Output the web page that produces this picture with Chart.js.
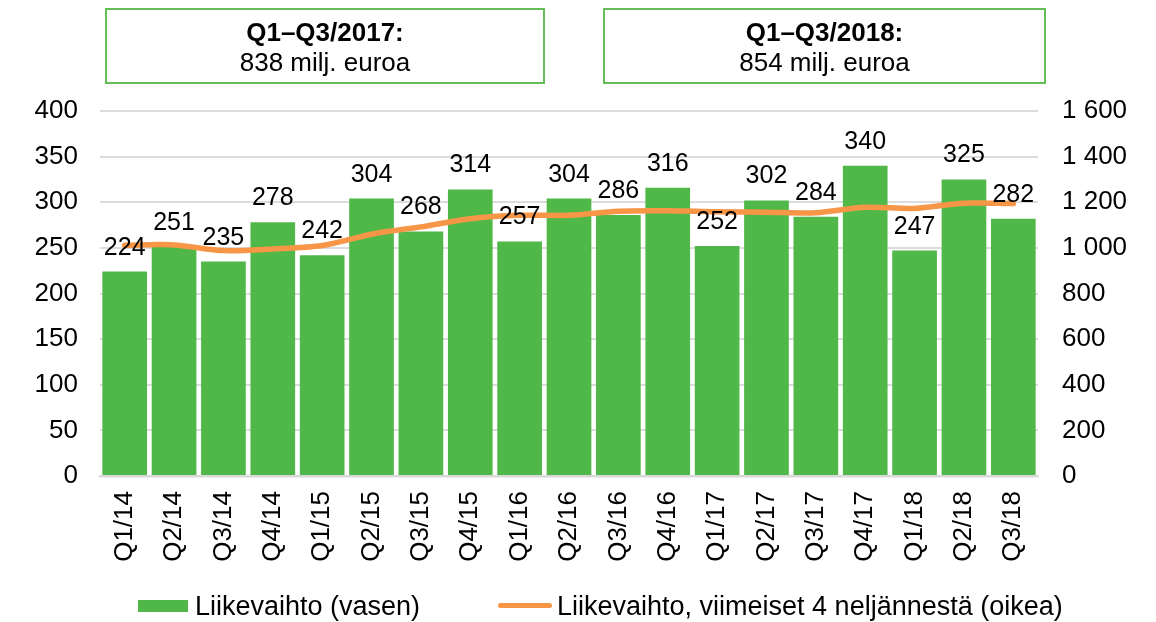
<!DOCTYPE html>
<html><head><meta charset="utf-8">
<script src="https://cdn.jsdelivr.net/npm/chart.js@4.4.0/dist/chart.umd.min.js"></script>
<style>
html,body{margin:0;padding:0;background:#fff;}
#wrap{position:relative;width:1156px;height:622px;font-family:"Liberation Sans",Arial,sans-serif;color:#000;overflow:hidden;}
#c{position:absolute;left:0;top:0;}
.box{position:absolute;top:8px;height:76px;box-sizing:border-box;border:2px solid #64bf57;text-align:center;font-size:26px;line-height:30px;padding-top:7px;}
.box b{display:block;}
.leg{position:absolute;font-size:27px;line-height:30px;white-space:nowrap;}
.sw{position:absolute;}
</style>
</head><body>
<div id="wrap">
<canvas id="c" width="1156" height="622"></canvas>
<div class="box" style="left:105px;width:440px;"><b>Q1–Q3/2017:</b>838 milj. euroa</div>
<div class="box" style="left:603px;width:443px;"><b>Q1–Q3/2018:</b>854 milj. euroa</div>
<div class="sw" style="left:138px;top:600px;width:50px;height:12px;background:#50b848;"></div>
<div class="leg" style="left:195px;top:591px;">Liikevaihto (vasen)</div>
<div class="sw" style="left:498px;top:603px;width:54px;height:5px;border-radius:3px;background:#f79646;"></div>
<div class="leg" style="left:557px;top:591px;">Liikevaihto, viimeiset 4 neljännestä (oikea)</div>
</div>
<script>
const categories = ["Q1/14","Q2/14","Q3/14","Q4/14","Q1/15","Q2/15","Q3/15","Q4/15","Q1/16","Q2/16","Q3/16","Q4/16","Q1/17","Q2/17","Q3/17","Q4/17","Q1/18","Q2/18","Q3/18"];
const revenue = [224,251,235,278,242,304,268,314,257,304,286,316,252,302,284,340,247,325,282];
const rolling4 = [1012,1013,988,995,1010,1060,1092,1128,1143,1143,1161,1163,1158,1156,1154,1178,1173,1196,1194];
const leftTicks = [0,50,100,150,200,250,300,350,400];
const rightTicks = [0,200,400,600,800,1000,1200,1400,1600];

const GREEN = '#50b848', ORANGE = '#f79646', GRID = '#dcdcdc';
const FONT = '"Liberation Sans", Arial, sans-serif';

const valueLabels = {
  id: 'valueLabels',
  afterDatasetsDraw(chart) {
    const meta = chart.getDatasetMeta(0);
    const ctx = chart.ctx;
    ctx.save();
    ctx.font = '25px ' + FONT;
    ctx.fillStyle = '#000';
    ctx.textAlign = 'center';
    ctx.textBaseline = 'alphabetic';
    meta.data.forEach((el, i) => {
      ctx.fillText(String(revenue[i]), el.x, el.y - 17);
    });
    ctx.restore();
  }
};

const fmt = v => String(v).replace(/\B(?=(\d{3})+(?!\d))/g, ' ');

new Chart(document.getElementById('c'), {
  type: 'bar',
  data: {
    labels: categories,
    datasets: [
      { type: 'bar', label: 'Liikevaihto (vasen)', data: revenue, backgroundColor: GREEN, borderWidth: 0,
        yAxisID: 'y', order: 1, barPercentage: 0.905, categoryPercentage: 1.0 },
      { type: 'line', label: 'Liikevaihto, viimeiset 4 neljännestä (oikea)', data: rolling4, borderColor: ORANGE,
        borderWidth: 5.5, pointRadius: 0, tension: 0.3, yAxisID: 'y1', order: 0, borderCapStyle: 'round', fill: false }
    ]
  },
  options: {
    responsive: false,
    animation: false,
    layout: { padding: { top: 111, left: 0, right: 0, bottom: 0 } },
    plugins: { legend: { display: false }, tooltip: { enabled: false } },
    scales: {
      x: {
        grid: { display: false, drawTicks: false },
        border: { display: true, color: '#d9d9d9', width: 2.5 },
        ticks: { color: '#000', font: { size: 26, family: FONT }, minRotation: 90, maxRotation: 90, autoSkip: false, padding: 15 },
        afterFit(s) { s.height = 146; }
      },
      y: {
        position: 'left', min: 0, max: 400,
        afterBuildTicks(s) { s.ticks = leftTicks.map(v => ({ value: v })); },
        grid: { color: GRID, lineWidth: 2, drawTicks: false },
        border: { display: false },
        ticks: { color: '#000', font: { size: 26, family: FONT }, padding: 22 },
        afterFit(s) { s.width = 100; }
      },
      y1: {
        position: 'right', min: 0, max: 1600,
        afterBuildTicks(s) { s.ticks = rightTicks.map(v => ({ value: v })); },
        grid: { display: false, drawTicks: false },
        border: { display: false },
        ticks: { color: '#000', font: { size: 26, family: FONT }, padding: 24, callback: v => fmt(v) },
        afterFit(s) { s.width = 118; }
      }
    }
  },
  plugins: [valueLabels]
});
</script>
</body></html>
